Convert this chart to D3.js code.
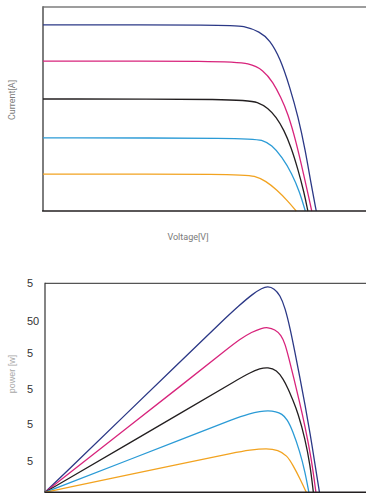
<!DOCTYPE html>
<html>
<head>
<meta charset="utf-8">
<script src="https://cdn.jsdelivr.net/npm/d3@7"></script>
<style>
  body { margin: 0; background: #fff; }
  svg { display: block; }
</style>
</head>
<body>
<div id="chart"></div>
<script>
const W = 366, H = 494;

const seriesColors = ['#2b3886', '#d8247c', '#231f20', '#2b9bd6', '#f2a320'];

// I-V curves, [voltage, current]
const ivNavy = [[0, 9.12], [28.9, 9.12], [31.0, 9.08], [33.6, 8.79], [35.1, 8.38], [36.7, 7.5], [38.2, 6.08], [39.5, 4.61], [40.6, 2.99], [41.5, 1.32], [42.3, 0]];
const ivMagenta = [[0, 7.35], [28.2, 7.35], [32.0, 7.25], [34.1, 6.91], [35.6, 6.32], [36.8, 5.59], [37.9, 4.8], [39.2, 3.38], [40.4, 1.72], [41.2, 0.59], [41.6, 0]];
const ivBlack = [[0, 5.49], [31.0, 5.49], [33.3, 5.34], [34.8, 5.05], [36.1, 4.61], [37.3, 3.97], [38.4, 3.14], [39.5, 2.01], [40.4, 0.93], [41.0, 0]];
const ivBlue = [[0, 3.58], [32.0, 3.58], [33.9, 3.48], [35.4, 3.24], [37.0, 2.65], [38.5, 1.86], [39.8, 0.88], [40.6, 0]];
const ivOrange = [[0, 1.81], [30.5, 1.81], [32.8, 1.72], [34.5, 1.47], [36.2, 1.03], [37.9, 0.49], [39.2, 0]];

// P-V curves, [voltage, power]
const pvNavy = [[0, 0], [24.1, 42.87], [27.3, 48.6], [30.4, 53.9], [32.4, 57.0], [33.8, 58.6], [34.7, 59.14], [35.7, 58.51], [36.6, 56.65], [37.4, 53.0], [38.2, 46.9], [38.9, 40.5], [39.7, 33.0], [40.5, 25.2], [41.3, 16.9], [42.1, 7.5], [42.75, 0]];
const pvMagenta = [[0, 0], [24.1, 34.83], [28.0, 40.57], [30.4, 44.01], [32.2, 46.02], [33.8, 47.17], [34.7, 47.37], [35.8, 46.74], [36.8, 45.16], [37.4, 42.6], [38.0, 38.4], [38.7, 33.2], [39.6, 26.3], [40.5, 19.0], [41.5, 9.6], [42.2, 0]];
const pvBlack = [[0, 0], [24.1, 25.93], [29.9, 32.24], [31.9, 34.3], [33.5, 35.55], [34.7, 35.89], [36.1, 35.11], [37.1, 32.53], [37.9, 29.66], [38.6, 26.5], [39.4, 22.8], [40.5, 15.5], [41.3, 7.8], [41.8, 0]];
const pvBlue = [[0, 0], [24.1, 17.2], [29.3, 21.0], [31.9, 22.6], [33.5, 23.2], [34.7, 23.43], [36.0, 23.2], [36.9, 22.48], [37.7, 21.05], [38.6, 17.6], [39.7, 11.66], [40.5, 5.91], [41.1, 0]];
const pvOrange = [[0, 0], [24.1, 9.27], [29.3, 11.28], [31.9, 12.14], [34.6, 12.63], [36.3, 12.14], [37.7, 10.57], [38.6, 7.84], [39.7, 4.02], [40.7, 0]];

const powerTickValues = [60, 49.2, 39.9, 29.7, 19.6, 9.1];
const powerTickLabels = ['5', '50', '5', '5', '5', '5'];

const ivSeries = [ivNavy, ivMagenta, ivBlack, ivBlue, ivOrange];
const pvSeries = [pvNavy, pvMagenta, pvBlack, pvBlue, pvOrange];

const svg = d3.select('#chart').append('svg')
  .attr('width', W)
  .attr('height', H);

// ---- top chart: current vs voltage
const x1 = d3.scaleLinear().domain([0, 50]).range([43, 366]);
const y1 = d3.scaleLinear().domain([0, 10]).range([211, 7]);

const ivG = svg.append('g');
ivG.append('line')
  .attr('x1', x1(0)).attr('x2', x1(50))
  .attr('y1', y1(10)).attr('y2', y1(10))
  .attr('stroke', '#7d7d7d').attr('stroke-width', 1.6);
ivG.append('line')
  .attr('x1', x1(0)).attr('x2', x1(0))
  .attr('y1', y1(10) - 0.8).attr('y2', y1(0))
  .attr('stroke', '#6f6f6f').attr('stroke-width', 1.8);

const ivLine = d3.line()
  .x(d => x1(d[0]))
  .y(d => y1(d[1]))
  .curve(d3.curveBasis);

ivSeries.forEach((s, i) => {
  ivG.append('path')
    .datum(s)
    .attr('d', ivLine)
    .attr('fill', 'none')
    .attr('stroke', seriesColors[i])
    .attr('stroke-width', 1.3);
});

ivG.append('line')
  .attr('x1', x1(0) - 0.9).attr('x2', x1(50))
  .attr('y1', y1(0)).attr('y2', y1(0))
  .attr('stroke', '#231f20').attr('stroke-width', 1.6);

ivG.append('text')
  .attr('x', 188).attr('y', 240)
  .attr('text-anchor', 'middle')
  .attr('font-family', 'Roboto, sans-serif')
  .attr('font-size', 9)
  .attr('fill', '#7a7a7a')
  .text('Voltage[V]');

ivG.append('text')
  .attr('transform', 'translate(15,100) rotate(-90)')
  .attr('text-anchor', 'middle')
  .attr('font-family', 'Roboto, sans-serif')
  .attr('font-size', 9)
  .attr('fill', '#7a7a7a')
  .text('Current[A]');

// ---- bottom chart: power vs voltage
const x2 = d3.scaleLinear().domain([0, 50]).range([45, 366]);
const y2 = d3.scaleLinear().domain([0, 60]).range([492.3, 283.3]);

const pvG = svg.append('g');

pvG.append('g')
  .attr('transform', 'translate(' + x2(0) + ',0)')
  .call(d3.axisLeft(y2)
    .tickValues(powerTickValues)
    .tickFormat((d, i) => powerTickLabels[i])
    .tickSize(0))
  .call(g => g.select('.domain').remove())
  .call(g => g.selectAll('text')
    .attr('x', -18)
    .attr('text-anchor', 'start')
    .attr('font-family', '"Liberation Sans", Arial, sans-serif')
    .attr('font-size', 11)
    .attr('fill', '#333'));

pvG.append('line')
  .attr('x1', x2(0)).attr('x2', x2(50))
  .attr('y1', y2(60)).attr('y2', y2(60))
  .attr('stroke', '#555').attr('stroke-width', 1.2);
pvG.append('line')
  .attr('x1', x2(0)).attr('x2', x2(0))
  .attr('y1', y2(60) - 0.6).attr('y2', y2(0))
  .attr('stroke', '#333').attr('stroke-width', 1.2);

const pvLine = d3.line()
  .x(d => x2(d[0]))
  .y(d => y2(d[1]))
  .curve(d3.curveBasis);

pvSeries.forEach((s, i) => {
  pvG.append('path')
    .datum(s)
    .attr('d', pvLine)
    .attr('fill', 'none')
    .attr('stroke', seriesColors[i])
    .attr('stroke-width', 1.3);
});

pvG.append('line')
  .attr('x1', x2(0) - 0.6).attr('x2', x2(50))
  .attr('y1', y2(0)).attr('y2', y2(0))
  .attr('stroke', '#231f20').attr('stroke-width', 1.6);

pvG.append('text')
  .attr('transform', 'translate(15,374) rotate(-90)')
  .attr('text-anchor', 'middle')
  .attr('font-family', '"Liberation Sans", Arial, sans-serif')
  .attr('font-size', 9)
  .attr('fill', '#a8a8a8')
  .text('power [w]');
</script>
</body>
</html>
